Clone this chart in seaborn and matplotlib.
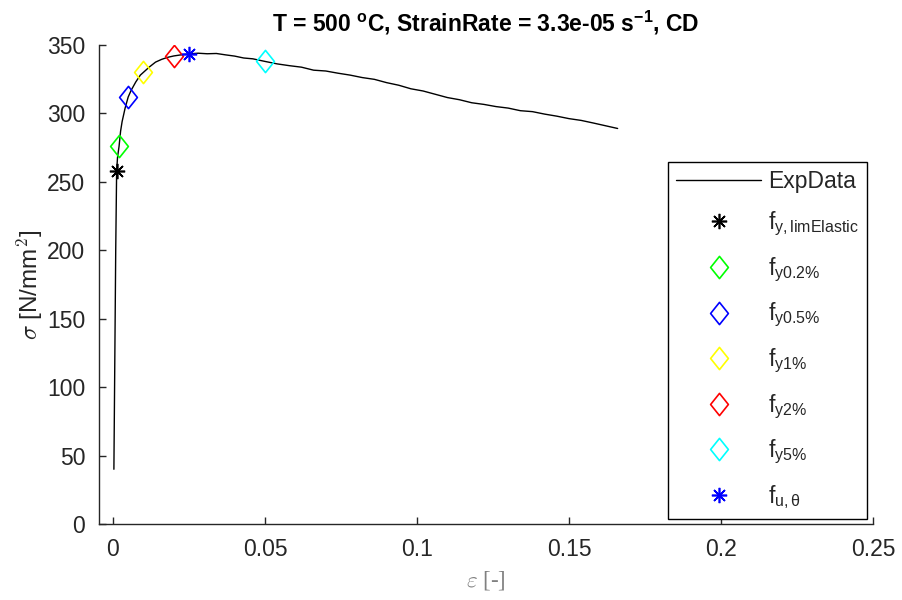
import matplotlib
matplotlib.use("Agg")
import matplotlib.pyplot as plt
import seaborn as sns
import numpy as np
from matplotlib.path import Path
from matplotlib.ticker import FixedLocator, FuncFormatter

# ---------------- data ----------------
strain_exp = [0.0003, 0.0006, 0.0009, 0.0012, 0.0015, 0.0020, 0.0025, 0.0030, 0.0040,
              0.0050, 0.0060, 0.0075, 0.0090, 0.0100, 0.0120, 0.0140, 0.0160, 0.0180,
              0.0200, 0.0230, 0.0250, 0.0280, 0.0310, 0.0340, 0.0370, 0.0400, 0.0430,
              0.0460, 0.0500, 0.0540, 0.0580, 0.0620, 0.0660, 0.0700, 0.0740, 0.0780,
              0.0820, 0.0860, 0.0900, 0.0940, 0.0980, 0.1020, 0.1060, 0.1100, 0.1140,
              0.1180, 0.1220, 0.1260, 0.1300, 0.1340, 0.1380, 0.1420, 0.1460, 0.1500,
              0.1540, 0.1580, 0.1620, 0.1660]
stress_exp = [40, 120, 200, 258, 268, 276, 287, 294, 304,
              312, 317, 323, 328, 330, 334, 337.5, 339.5, 341,
              342, 343, 343.5, 344, 343.6, 343.8, 342.8, 341.9, 340.5,
              339.9, 338, 336.2, 334.9, 333.8, 331.6, 331.0, 329.4, 328,
              326.2, 324.9, 322.5, 320.6, 318.0, 316.4, 314.0, 311.6, 310.0,
              307.8, 306.6, 305.0, 303.9, 302.0, 301.3, 299.5, 298.0, 296.2,
              294.9, 293.0, 291.0, 289]

# order in legend: limElastic, 0.2%, 0.5%, 1%, 2%, 5%, ultimate
point_labels = [r"f$_{\mathrm{y,limElastic}}$", r"f$_{\mathrm{y0.2\%}}$", r"f$_{\mathrm{y0.5\%}}$",
                r"f$_{\mathrm{y1\%}}$", r"f$_{\mathrm{y2\%}}$", r"f$_{\mathrm{y5\%}}$",
                r"f$_{\mathrm{u,\theta}}$"]
point_strain = [0.0013, 0.002, 0.005, 0.010, 0.020, 0.050, 0.025]
point_stress = [258, 276, 312, 330, 342, 338, 343.5]
point_colors = ["#000000", "#00ff00", "#0000ff", "#ffff00", "#ff0000", "#00ffff", "#0000ff"]

x_ticks = [0, 0.05, 0.1, 0.15, 0.2, 0.25]
y_ticks = [0, 50, 100, 150, 200, 250, 300, 350]
title = r"T = 500 $^{\mathbf{o}}$C, StrainRate = 3.3e-05 s$^{\mathbf{-1}}$, CD"

# ---------------- style ----------------
sns.set_theme(style="white")
plt.rcParams["font.family"] = ["Liberation Sans", "DejaVu Sans"]
plt.rcParams["mathtext.fontset"] = "custom"
plt.rcParams["mathtext.rm"] = "Liberation Sans"
plt.rcParams["mathtext.it"] = "Liberation Sans:italic"
plt.rcParams["mathtext.bf"] = "Liberation Sans:bold"

FS = 16.5
GRAY = "#262626"

fig = plt.figure(figsize=(9.02, 6.0), dpi=100)
ax = fig.add_axes([99 / 902, (600 - 524) / 600, (873 - 99) / 902, (524 - 45) / 600])

diamond = Path([(0, 1), (0.8, 0), (0, -1), (-0.8, 0), (0, 1)],
               [Path.MOVETO, Path.LINETO, Path.LINETO, Path.LINETO, Path.CLOSEPOLY])
aster = (8, 2, 0)

sns.lineplot(x=strain_exp, y=stress_exp, ax=ax, color="black", lw=1.0,
             sort=False, estimator=None, label="ExpData")

for lab, sx, sy, c in zip(point_labels, point_strain, point_stress, point_colors):
    if "limElastic" in lab or "theta" in lab:
        ax.plot([sx], [sy], linestyle="none", marker=aster, markersize=11,
                markeredgewidth=1.2, color=c, label=lab)
    else:
        ax.plot([sx], [sy], linestyle="none", marker=diamond, markersize=16,
                markeredgewidth=1.2, markerfacecolor="none", markeredgecolor=c, label=lab)

ax.set_xlim(-0.0046, 0.25)
ax.set_ylim(0, 350)
ax.xaxis.set_major_locator(FixedLocator(x_ticks))
ax.yaxis.set_major_locator(FixedLocator(y_ticks))
ax.xaxis.set_major_formatter(FuncFormatter(lambda v, p: "%g" % v))
ax.yaxis.set_major_formatter(FuncFormatter(lambda v, p: "%g" % v))
ax.tick_params(axis="both", direction="in", length=5, width=1, color=GRAY,
               labelcolor=GRAY, labelsize=FS, pad=10, left=True, bottom=True)
for s in ["top", "right"]:
    ax.spines[s].set_visible(False)
for s in ["left", "bottom"]:
    ax.spines[s].set_color(GRAY)
    ax.spines[s].set_linewidth(1.0)

ax.set_title(title, fontsize=FS, fontweight="bold", color="black", pad=10)
ax.set_xlabel(r"$\varepsilon$ [-]", fontsize=FS, color="#808080",
              family=["Liberation Serif", "DejaVu Serif"],
              math_fontfamily="cm", labelpad=6)
ax.set_ylabel(r"$\sigma$ [N/mm$^{\mathsf{2}}$]", fontsize=FS + 1, color=GRAY,
              math_fontfamily="cm", labelpad=1)

leg = ax.legend(loc="lower right", bbox_to_anchor=(0.992, 0.01), fontsize=FS,
                frameon=True, fancybox=False, edgecolor="black", framealpha=1,
                handlelength=3.7, handletextpad=0.3, labelspacing=0.75,
                borderpad=0.35, borderaxespad=0)
leg.get_frame().set_linewidth(1.0)
for t in leg.get_texts():
    t.set_color(GRAY)

fig.savefig("out.png", dpi=100)
